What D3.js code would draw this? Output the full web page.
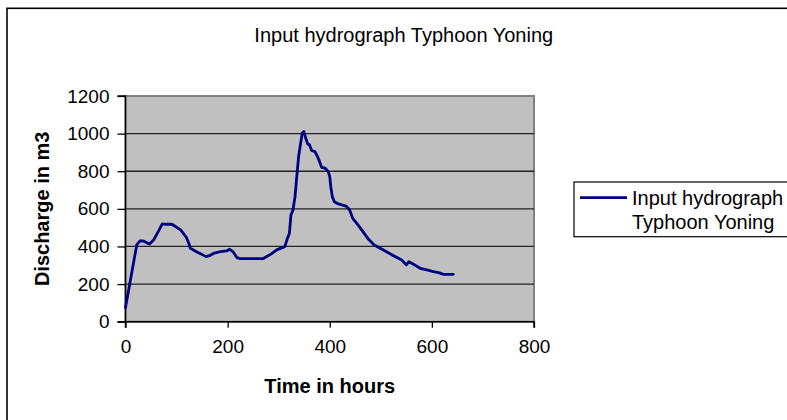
<!DOCTYPE html>
<html>
<head>
<meta charset="utf-8">
<script src="https://cdn.jsdelivr.net/npm/d3@7"></script>
<style>
  html, body { margin: 0; padding: 0; background: #fff; }
  svg { display: block; font-family: "Liberation Sans", Arial, sans-serif; }
</style>
</head>
<body>
<svg id="chart" width="787" height="420"></svg>
<script>
// ---- data ----
const hours = [0, 22, 28, 35, 47, 55, 63, 72, 79, 91, 108, 119, 124, 127, 140, 158, 166, 174, 186, 198, 204, 211, 218, 225, 269, 284, 297, 312, 316, 321, 324, 328, 332, 336, 339, 342, 346, 349.5, 353, 357, 360.5, 364.5, 371, 376, 380, 384, 391, 397, 400, 402, 405, 409, 417, 432, 439, 445, 453, 465, 476, 487, 505, 525, 541, 550, 555, 564, 577, 590, 603, 613, 623, 642];
const discharge = [75, 408, 429, 429, 413, 434, 474, 520, 518, 518, 488, 449, 417, 390, 371, 346, 353, 365, 372, 376, 385, 371, 341, 335, 335, 358, 383, 399, 434, 470, 567, 594, 665, 789, 878, 931, 1002, 1011, 975, 944, 940, 910, 904, 878, 851, 821, 816, 798, 771, 718, 665, 638, 626, 615, 594, 550, 523, 479, 438, 408, 381, 351, 328, 302, 319, 305, 284, 275, 266, 261, 252, 252];
const xTicks = [0, 200, 400, 600, 800];
const yTicks = [0, 200, 400, 600, 800, 1000, 1200];
const titleText = "Input hydrograph Typhoon Yoning";
const xLabel = "Time in hours";
const yLabel = "Discharge in m3";
const legendLines = ["Input hydrograph", "Typhoon Yoning"];

// ---- layout ----
const svg = d3.select("#chart");
const L = 125.5, R = 534, T = 96, B = 321.7;
const x = d3.scaleLinear().domain([0, 800]).range([L, R]);
const y = d3.scaleLinear().domain([0, 1200]).range([B, T]);
const lineColor = "#000080";

// outer chart border (cropped at right/bottom)
svg.append("rect").attr("x", 7).attr("y", 8.3).attr("width", 800).attr("height", 430)
  .attr("fill", "#fff").attr("stroke", "#000").attr("stroke-width", 1.6);

// plot area
svg.append("rect").attr("x", L).attr("y", T).attr("width", R - L).attr("height", B - T)
  .attr("fill", "#c0c0c0").attr("stroke", "#808080").attr("stroke-width", 2);

// gridlines
svg.append("g").selectAll("line").data(yTicks.filter(d => d > 0 && d < 1200)).join("line")
  .attr("x1", L).attr("x2", R).attr("y1", d => y(d)).attr("y2", d => y(d))
  .attr("stroke", "#222").attr("stroke-width", 1.3);

// axes
const yAxis = d3.axisLeft(y).tickValues(yTicks).tickSize(8).tickPadding(8).tickFormat(d3.format("d"));
const gy = svg.append("g").attr("transform", `translate(${L},0)`).call(yAxis);
const xAxis = d3.axisBottom(x).tickValues(xTicks).tickSize(6).tickPadding(12).tickFormat(d3.format("d"));
const gx = svg.append("g").attr("transform", `translate(0,${B})`).call(xAxis);
[gx, gy].forEach(g => {
  g.select(".domain").attr("stroke", "#000").attr("stroke-width", 1.5);
  g.selectAll(".tick line").attr("stroke", "#000").attr("stroke-width", 1.3);
  g.selectAll(".tick text").attr("fill", "#000").style("font-size", "19px")
    .style("font-family", '"Liberation Sans", Arial, sans-serif');
});
gy.select(".domain").attr("d", `M-8,${T}H0V${B}H-8`);
gx.select(".domain").attr("d", `M${L},6V0H${R}V6`);

// data line
const line = d3.line().x((d, i) => x(hours[i])).y(d => y(d)).curve(d3.curveLinear);
svg.append("path").datum(discharge).attr("d", line)
  .attr("fill", "none").attr("stroke", lineColor).attr("stroke-width", 2.8)
  .attr("stroke-linejoin", "round").attr("stroke-linecap", "round");

// title
svg.append("text").attr("x", (L + R) / 2 + 74).attr("y", 41.7).attr("text-anchor", "middle")
  .style("font-size", "20px").attr("fill", "#000").text(titleText);

// axis titles
svg.append("text").attr("x", (L + R) / 2).attr("y", 392.7).attr("text-anchor", "middle")
  .style("font-size", "20px").style("font-weight", "bold").attr("fill", "#000").text(xLabel);
svg.append("text").attr("transform", `translate(48.5,${(T + B) / 2}) rotate(-90)`).attr("text-anchor", "middle")
  .style("font-size", "20px").style("font-weight", "bold").attr("fill", "#000").text(yLabel);

// legend
const lg = svg.append("g");
lg.append("rect").attr("x", 574).attr("y", 182).attr("width", 240).attr("height", 54.7)
  .attr("fill", "#fff").attr("stroke", "#000").attr("stroke-width", 1.2);
lg.append("line").attr("x1", 580).attr("x2", 627).attr("y1", 197.7).attr("y2", 197.7)
  .attr("stroke", lineColor).attr("stroke-width", 2.8);
lg.selectAll("text.leg").data(legendLines).join("text").attr("class", "leg")
  .attr("x", 632).attr("y", (d, i) => 205 + i * 24.3)
  .style("font-size", "20px").attr("fill", "#000").text(d => d);
</script>
</body>
</html>
